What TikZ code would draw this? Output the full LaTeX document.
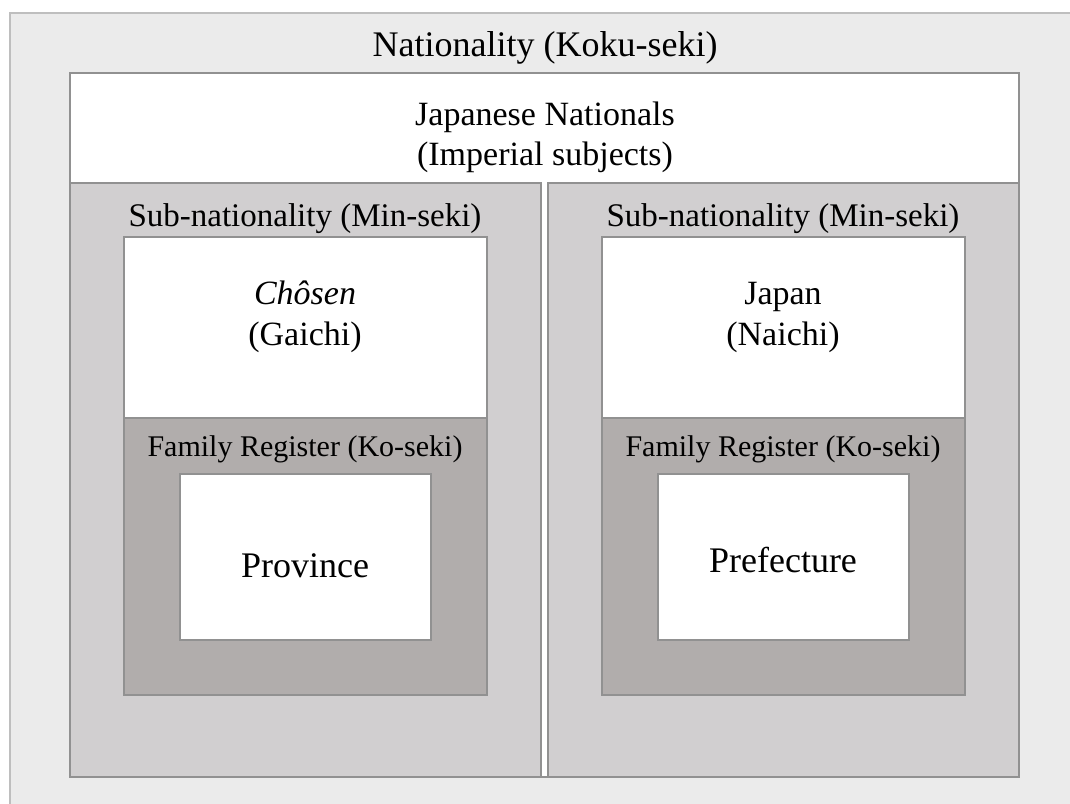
\documentclass[tikz,border=0pt]{standalone}
\usepackage{fontspec}
\setmainfont{Liberation Serif}
\definecolor{natfill}{RGB}{235,235,235}
\definecolor{natline}{RGB}{190,190,190}
\definecolor{subfill}{RGB}{209,207,208}
\definecolor{regfill}{RGB}{177,173,172}
\definecolor{boxline}{RGB}{145,145,145}
\tikzset{
  layer/.style={draw=boxline, line width=1.2pt, inner sep=0pt, outer sep=0pt, anchor=north west},
  lbl/.style={inner sep=0pt, anchor=base, text=black},
  fs/.style={font=\fontsize{#1}{#1}\selectfont}
}
\begin{document}
\begin{tikzpicture}[x=1pt,y=-1pt]
\useasboundingbox (0,0) rectangle (1070,803);
\clip (0,0) rectangle (1070,803);
% outer frame: nationality
\node[layer, draw=natline, line width=1.5pt, fill=natfill, minimum width=1080pt, minimum height=800pt] (nat) at (10,13) {};
% Japanese nationals
\node[layer, fill=white, minimum width=949pt, minimum height=704pt] (jpn) at (70,73) {};
% left column: Chosen
\node[layer, fill=subfill, minimum width=471pt, minimum height=594pt] (subL) at (70,183) {};
\node[layer, fill=white, minimum width=363pt, minimum height=181pt] (terL) at (124,237) {};
\node[layer, fill=regfill, minimum width=363pt, minimum height=277pt] (regL) at (124,418) {};
\node[layer, fill=white, minimum width=251pt, minimum height=166pt] (provL) at (180,474) {};
% right column: Japan
\node[layer, fill=subfill, minimum width=471pt, minimum height=594pt] (subR) at (548,183) {};
\node[layer, fill=white, minimum width=363pt, minimum height=181pt] (terR) at (602,237) {};
\node[layer, fill=regfill, minimum width=363pt, minimum height=277pt] (regR) at (602,418) {};
\node[layer, fill=white, minimum width=251pt, minimum height=166pt] (provR) at (658,474) {};
% labels
\node[lbl, fs=36] (tNat) at (545,56) {Nationality (Koku-seki)};
\node[lbl, fs=34] (tJpn1) at (545,125) {Japanese Nationals};
\node[lbl, fs=34] (tJpn2) at (545,165) {(Imperial subjects)};
\node[lbl, fs=33] (tSubL) at (305,226) {Sub-nationality (Min-seki)};
\node[lbl, fs=33] (tSubR) at (783,226) {Sub-nationality (Min-seki)};
\node[lbl, fs=34] (tTerL1) at (305,304) {\itshape Chôsen};
\node[lbl, fs=34] (tTerL2) at (305,345) {(Gaichi)};
\node[lbl, fs=34] (tTerR1) at (783,304) {Japan};
\node[lbl, fs=34] (tTerR2) at (783,345) {(Naichi)};
\node[lbl, fs=30] (tRegL) at (305,456) {Family Register (Ko-seki)};
\node[lbl, fs=30] (tRegR) at (783,456) {Family Register (Ko-seki)};
\node[lbl, fs=36] (tProv) at (305,577) {Province};
\node[lbl, fs=36] (tPref) at (783,572) {Prefecture};
\end{tikzpicture}
\end{document}
